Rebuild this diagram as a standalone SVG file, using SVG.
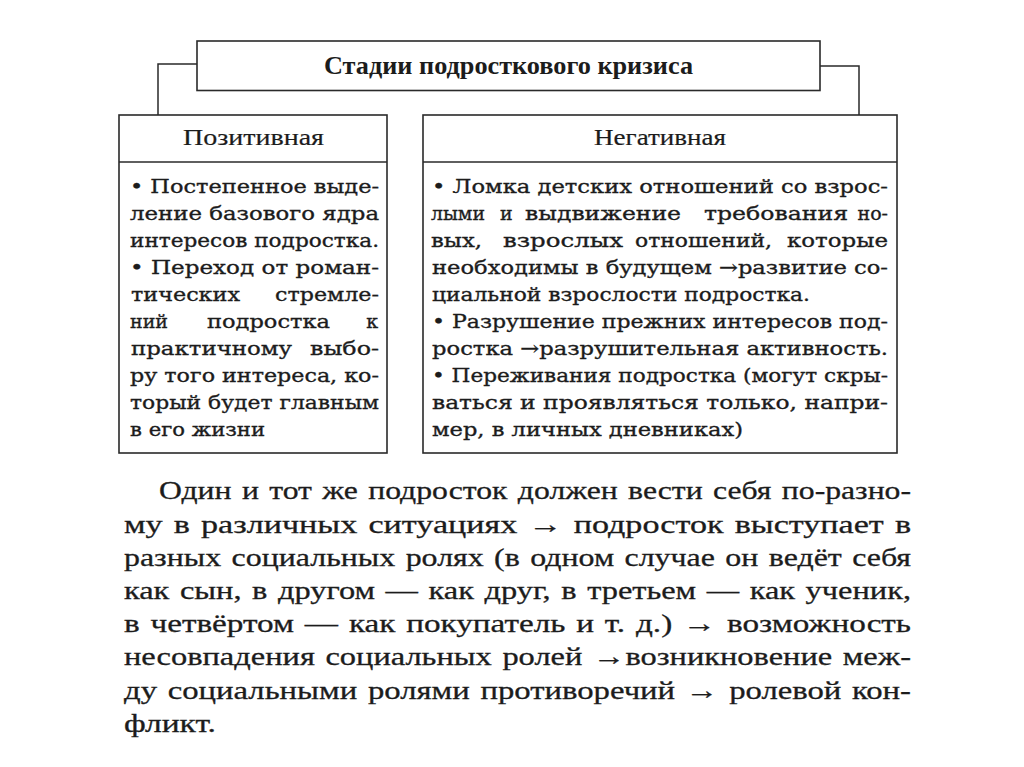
<svg xmlns="http://www.w3.org/2000/svg" width="1024" height="767" viewBox="0 0 1024 767">
<style>
.box{fill:#fff;stroke:#2a2a2a;stroke-width:1.6}
.div{stroke:#2a2a2a;stroke-width:1.6}
.conn{fill:none;stroke:#2a2a2a;stroke-width:1.5}
.ttl{font-family:"Liberation Serif",serif;font-weight:bold;font-size:25px;fill:#1c1c1c}
.h{font-family:"Liberation Serif",serif;font-size:24px;fill:#1c1c1c;stroke:#1c1c1c;stroke-width:0.2}
.t{font-family:"DejaVu Serif","Liberation Serif",serif;font-size:19px;fill:#1c1c1c;stroke:#1c1c1c;stroke-width:0.35}
.p{font-family:"Liberation Serif",serif;font-size:26px;fill:#1c1c1c;word-spacing:2px;stroke:#1c1c1c;stroke-width:0.3}
</style>
<rect width="1024" height="767" fill="#fff"/>
<g id="connectors">
<path class="conn" d="M197,64 H158 V115"/>
<path class="conn" d="M820,66 H859 V115"/>
</g>
<g id="title">
<rect class="box" x="197" y="41" width="623" height="49.5"/>
<text class="ttl" x="324" y="73.5" textLength="369" lengthAdjust="spacingAndGlyphs">Стадии подросткового кризиса</text>
</g>
<g id="positive">
<rect class="box" x="119" y="115" width="268" height="338"/>
<line class="div" x1="119" y1="162" x2="387" y2="162"/>
<text class="h" x="183" y="145" textLength="141" lengthAdjust="spacingAndGlyphs">Позитивная</text>
<g class="t">
<text x="130" y="192.5" textLength="249" lengthAdjust="spacingAndGlyphs">• Постепенное выде-</text>
<text x="130" y="219.5" textLength="249" lengthAdjust="spacingAndGlyphs">ление базового ядра</text>
<text x="130" y="246.5" textLength="249" lengthAdjust="spacingAndGlyphs">интересов подростка.</text>
<text x="130" y="273.5" textLength="249" lengthAdjust="spacingAndGlyphs">• Переход от роман-</text>
<text x="131" y="300.5" textLength="109" lengthAdjust="spacingAndGlyphs">тических</text>
<text x="275" y="300.5" textLength="104" lengthAdjust="spacingAndGlyphs">стремле-</text>
<text x="130" y="327.5">ний</text>
<text x="207" y="327.5" textLength="123" lengthAdjust="spacingAndGlyphs">подростка</text>
<text x="378" y="327.5" text-anchor="end">к</text>
<text x="131" y="354.5" textLength="161" lengthAdjust="spacingAndGlyphs">практичному</text>
<text x="310" y="354.5" textLength="69" lengthAdjust="spacingAndGlyphs">выбо-</text>
<text x="130" y="381.5" textLength="249" lengthAdjust="spacingAndGlyphs">ру того интереса, ко-</text>
<text x="130" y="408.5" textLength="249" lengthAdjust="spacingAndGlyphs">торый будет главным</text>
<text x="130" y="435.5" textLength="135" lengthAdjust="spacingAndGlyphs">в его жизни</text>
</g>
</g>
<g id="negative">
<rect class="box" x="423" y="115" width="474" height="338"/>
<line class="div" x1="423" y1="162" x2="897" y2="162"/>
<text class="h" x="594" y="145" textLength="132" lengthAdjust="spacingAndGlyphs">Негативная</text>
<g class="t">
<text x="432" y="192.5" textLength="456" lengthAdjust="spacingAndGlyphs">• Ломка детских отношений со взрос-</text>
<text x="431" y="219.5" textLength="54" lengthAdjust="spacingAndGlyphs">лыми</text>
<text x="500" y="219.5">и</text>
<text x="525" y="219.5" textLength="156" lengthAdjust="spacingAndGlyphs">выдвижение</text>
<text x="704" y="219.5" textLength="144" lengthAdjust="spacingAndGlyphs">требования</text>
<text x="888" y="219.5" text-anchor="end">но-</text>
<text x="431" y="246.5" textLength="51" lengthAdjust="spacingAndGlyphs">вых,</text>
<text x="503" y="246.5" textLength="120" lengthAdjust="spacingAndGlyphs">взрослых</text>
<text x="635" y="246.5" textLength="137" lengthAdjust="spacingAndGlyphs">отношений,</text>
<text x="787" y="246.5" textLength="101" lengthAdjust="spacingAndGlyphs">которые</text>
<text x="432" y="273.5" textLength="456" lengthAdjust="spacingAndGlyphs">необходимы в будущем →развитие со-</text>
<text x="432" y="300.5" textLength="378" lengthAdjust="spacingAndGlyphs">циальной взрослости подростка.</text>
<text x="432" y="327.5" textLength="456" lengthAdjust="spacingAndGlyphs">• Разрушение прежних интересов под-</text>
<text x="432" y="354.5" textLength="456" lengthAdjust="spacingAndGlyphs">ростка →разрушительная активность.</text>
<text x="432" y="381.5" textLength="456" lengthAdjust="spacingAndGlyphs">• Переживания подростка (могут скры-</text>
<text x="432" y="408.5" textLength="456" lengthAdjust="spacingAndGlyphs">ваться и проявляться только, напри-</text>
<text x="432" y="435.5" textLength="311" lengthAdjust="spacingAndGlyphs">мер, в личных дневниках)</text>
</g>
</g>
<g id="paragraph" class="p">
<text x="159" y="499.3" textLength="752" lengthAdjust="spacingAndGlyphs">Один и тот же подросток должен вести себя по-разно-</text>
<text x="124" y="532.5" textLength="787" lengthAdjust="spacingAndGlyphs">му в различных ситуациях → подросток выступает в</text>
<text x="124" y="565.7" textLength="787" lengthAdjust="spacingAndGlyphs">разных социальных ролях (в одном случае он ведёт себя</text>
<text x="124" y="598.9" textLength="787" lengthAdjust="spacingAndGlyphs">как сын, в другом — как друг, в третьем — как ученик,</text>
<text x="124" y="632.1" textLength="787" lengthAdjust="spacingAndGlyphs">в четвёртом — как покупатель и т. д.) → возможность</text>
<text x="124" y="665.3" textLength="787" lengthAdjust="spacingAndGlyphs">несовпадения социальных ролей →возникновение меж-</text>
<text x="124" y="698.5" textLength="787" lengthAdjust="spacingAndGlyphs">ду социальными ролями противоречий → ролевой кон-</text>
<text x="124" y="731.7" textLength="92" lengthAdjust="spacingAndGlyphs">фликт.</text>
</g>
</svg>
